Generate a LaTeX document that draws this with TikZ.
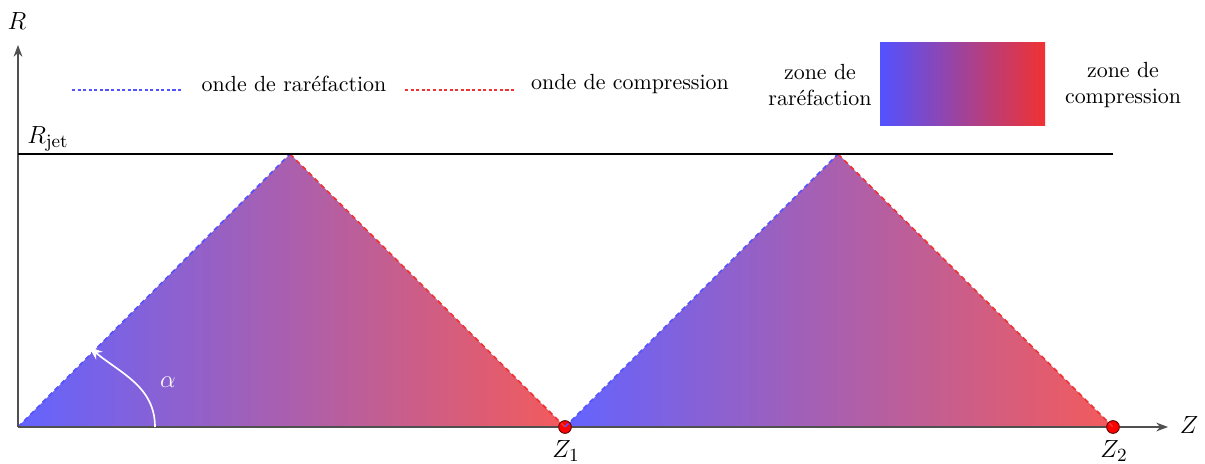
\documentclass[tikz,border=0pt]{standalone}
\usetikzlibrary{arrows.meta, positioning, calc}
\definecolor{rarblue}{HTML}{5252FF}
\definecolor{comred}{HTML}{F03232}
\definecolor{axisgray}{HTML}{505050}

\begin{document}
\begin{tikzpicture}[x=0.017cm, y=-0.017cm,
        axis/.style={-Stealth, axisgray, semithick},
        rarwave/.style={rarblue, thick, dash pattern=on 2.4pt off 1.8pt},
        comwave/.style={comred, thick, dash pattern=on 2.4pt off 1.8pt},
        keywave/.style={semithick, dash pattern=on 1.5pt off 1.2pt},
        zone/.style={left color=rarblue!90!white, right color=comred!80!white},
        pt/.style={circle, draw=black!70!red, fill=red, inner sep=0pt, minimum size=6.2pt, thin},
        lbl/.style={font=\fontsize{10.6}{12.5}\selectfont, align=center},
        mlbl/.style={font=\fontsize{12.5}{14}\selectfont}
    ]
        \useasboundingbox (0,0) rectangle (1205,464);
        % points
        \coordinate (o) at (18,427);
        \coordinate (top1) at (290,154);
        \coordinate (top2) at (838,154);
        \coordinate (rend) at (18,45);
        \coordinate (zend) at (1168,427);
        \coordinate (jetend) at (1113,154);
        \coordinate (jet0) at (18,154);
        % zones
        \shade[zone] (o) -- (top1) -- (565,427) -- cycle;
        \shade[zone] (565,427) -- (top2) -- (1113,427) -- cycle;
        \node (z1) [pt] at (565,427) {};
        \node (z2) [pt] at (1113,427) {};
        % waves
        \draw [rarwave] (o) -- (top1);
        \draw [comwave] (top1) -- (z1.center);
        \draw [rarwave] (z1.center) -- (top2);
        \draw [comwave] (top2) -- (z2.center);
        % axes
        \draw [axis] (o) -- (z1) -- (z2) -- (zend);
        \draw [axis] (o) -- (rend);
        \draw [black, thick] (jet0) -- (jetend);
        \node (rlab) [mlbl] at (17,21) {$R$};
        \node (zlab) [mlbl] at (1189,425) {$Z$};
        \node (rjet) [mlbl] at (48,139) {$R_{\mathrm{jet}}$};
        \node (z1lab) [mlbl] at (566,451) {$Z_1$};
        \node (z2lab) [mlbl] at (1114,451) {$Z_2$};
        % angle
        \coordinate (a0) at (155,427);
        \coordinate (a1) at (89,347);
        \draw [-Stealth, white, thick] (a0) to[out=90, in=-40] (a1);
        \node (alab) [mlbl, white] at (168,382) {$\alpha$};
        % legend
        \coordinate (lb0) at (72,90);
        \coordinate (lb1) at (183,90);
        \coordinate (lr0) at (405,90);
        \coordinate (lr1) at (515,90);
        \draw [keywave, rarblue] (lb0) -- (lb1);
        \draw [keywave, comred] (lr0) -- (lr1);
        \node (rarlab) [lbl] at (294,84) {onde de raréfaction};
        \node (comlab) [lbl] at (630,84) {onde de compression};
        \shade [left color=rarblue, right color=comred] (880,43) rectangle (1045,126);
        \node (zrar) [lbl] at (820,85) {zone de\\raréfaction};
        \node (zcom) [lbl] at (1123,85) {zone de\\compression};
    \end{tikzpicture}
\end{document}
